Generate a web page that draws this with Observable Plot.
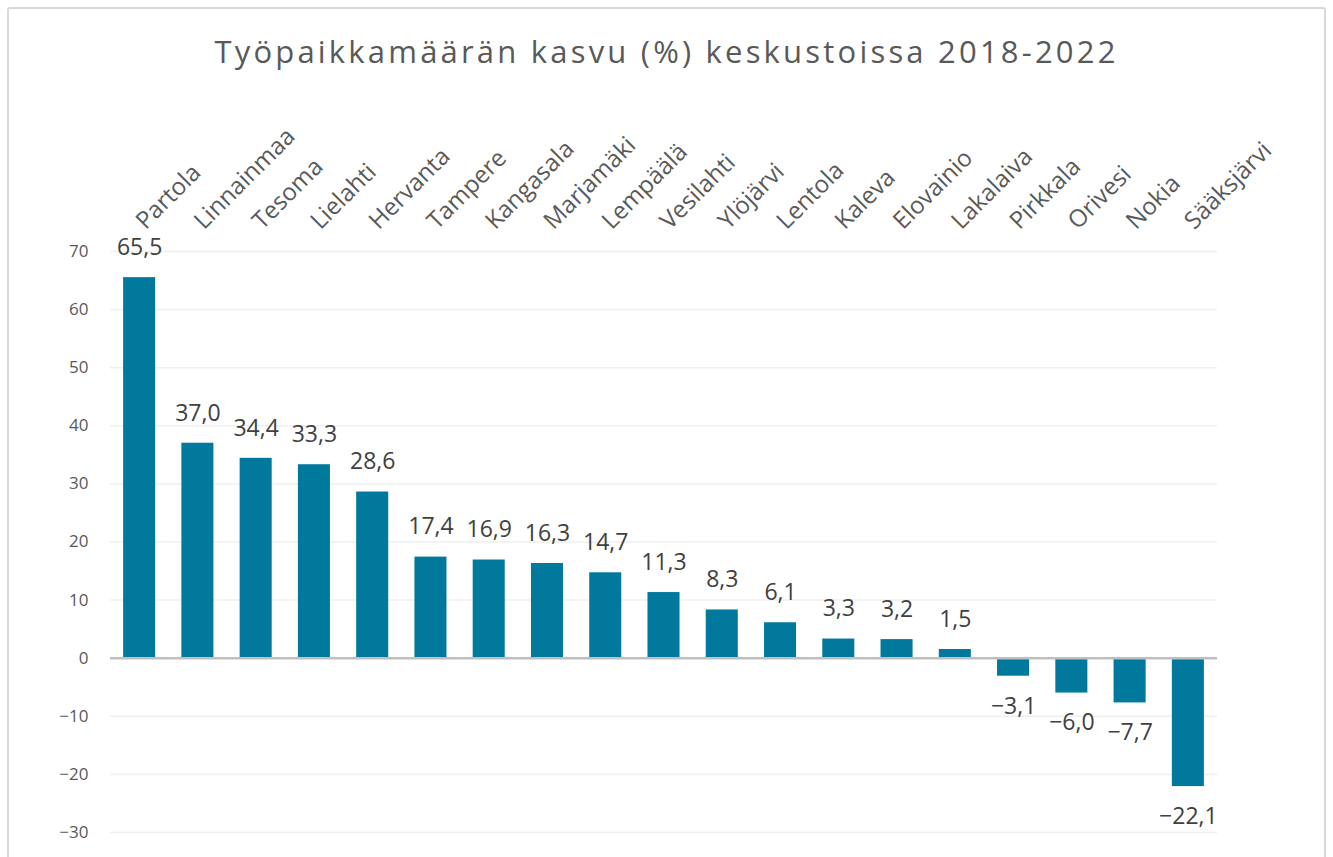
<!DOCTYPE html>
<html>
<head>
<meta charset="utf-8">
<script src="https://cdn.jsdelivr.net/npm/d3@7"></script>
<script src="https://cdn.jsdelivr.net/npm/@observablehq/plot@0.6"></script>
<style>
  html, body { margin: 0; padding: 0; background: #fff; }
  body { width: 1333px; height: 857px; position: relative; overflow: hidden; font-family: "Open Sans", sans-serif; }
  #frame { position: absolute; left: 7px; top: 7px; width: 1319px; height: 880px; border: 2px solid #d9d9d9; border-radius: 3px; box-sizing: border-box; }
  #title { position: absolute; left: 0; top: 30px; width: 1333px; text-align: center; font-size: 31px; letter-spacing: 3.2px; color: #595959; font-weight: 400; }
  #chart { position: absolute; left: 0; top: 100px; }
</style>
</head>
<body>
<div id="frame"></div>
<div id="title">Työpaikkamäärän kasvu (%) keskustoissa 2018-2022</div>
<div id="chart"></div>
<script>
const categories = ["Partola","Linnainmaa","Tesoma","Lielahti","Hervanta","Tampere","Kangasala","Marjamäki","Lempäälä","Vesilahti","Ylöjärvi","Lentola","Kaleva","Elovainio","Lakalaiva","Pirkkala","Orivesi","Nokia","Sääksjärvi"];
const values = [65.5,37.0,34.4,33.3,28.6,17.4,16.9,16.3,14.7,11.3,8.3,6.1,3.3,3.2,1.5,-3.1,-6.0,-7.7,-22.1];
const yTicks = [-30,-20,-10,0,10,20,30,40,50,60,70];

const data = categories.map((name, i) => ({name, value: values[i]}));
const fmtVal = v => (v < 0 ? "−" : "") + Math.abs(v).toFixed(1).replace(".", ",");
const fmtTick = v => (v < 0 ? "−" : "") + Math.abs(v);

const chart = Plot.plot({
  width: 1333,
  height: 757,
  marginLeft: 110,
  marginRight: 116,
  marginTop: 151,
  marginBottom: 25,
  style: {fontFamily: "'Open Sans', sans-serif", color: "#595959", background: "transparent"},
  x: {domain: categories, paddingInner: 0.45, paddingOuter: 0.225, round: false, axis: null},
  y: {domain: [-30, 70], axis: null},
  marks: [
    Plot.ruleY(yTicks.filter(d => d !== 0), {stroke: "#efefef", strokeWidth: 1.5}),
    Plot.barY(data, {x: "name", y: "value", fill: "#01799c"}),
    Plot.ruleY([0], {stroke: "#bfbfbf", strokeWidth: 2.5}),
    Plot.axisY({ticks: yTicks, label: null, tickSize: 0, tickPadding: 22, tickFormat: fmtTick, fontSize: 17, fill: "#595959", style: {letterSpacing: "0.6px"}}),
    Plot.text(data.filter(d => d.value >= 0), {x: "name", y: "value", text: d => fmtVal(d.value), dy: -30, fontSize: 23, fill: "#404040", style: {letterSpacing: "1.3px"}}),
    Plot.text(data.filter(d => d.value < 0), {x: "name", y: "value", text: d => fmtVal(d.value), dy: 30, fontSize: 23, fill: "#404040", style: {letterSpacing: "1.3px"}}),
    Plot.text(categories, {x: d => d, frameAnchor: "top", dy: -21, dx: 6, rotate: -45, textAnchor: "start", lineAnchor: "bottom", fontSize: 24, fill: "#595959", style: {letterSpacing: "3px"}})
  ]
});
document.getElementById("chart").appendChild(chart);
</script>
</body>
</html>
